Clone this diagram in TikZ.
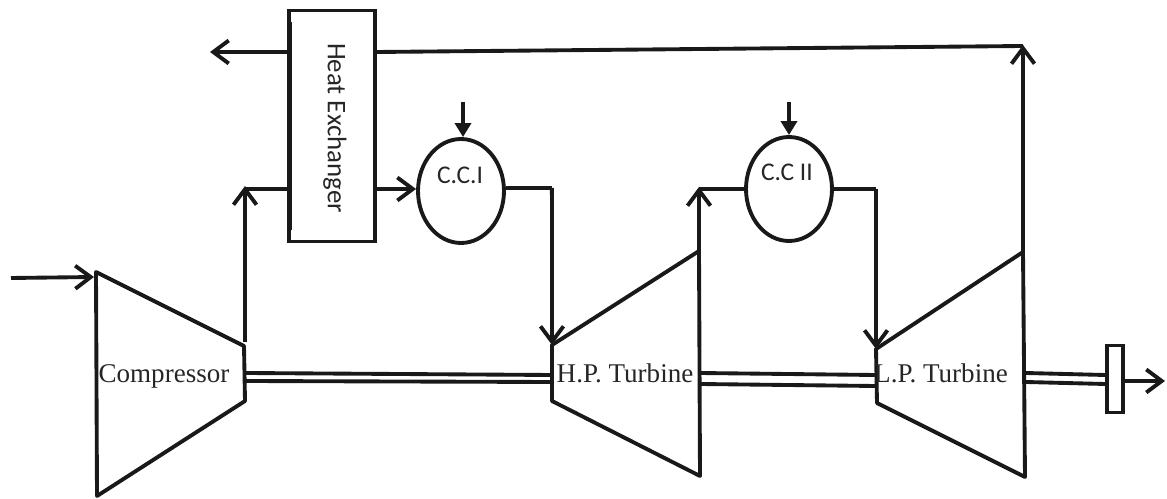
\documentclass[tikz,border=0pt]{standalone}
\usepackage{fontspec}
\setmainfont{Liberation Serif}
\newfontfamily\boxfont{Carlito}
\usetikzlibrary{arrows.meta}
\usetikzlibrary{shapes.geometric}

\tikzset{
    line/.style={line width=2.2pt, black!90},
    flow/.style={line, -{Straight Barb[length=3.1mm, width=4.6mm, line width=2.2pt]}},
    fuel/.style={line, -{Triangle[length=2.8mm, width=3.2mm]}},
    machine/.style={font=\fontsize{15.4}{18}\selectfont, inner sep=0pt, anchor=base, black!85},
    burner/.style={line, draw, ellipse, fill=white, minimum width=1.72cm, minimum height=2.08cm, inner sep=0pt},
    burnertext/.style={font=\boxfont\fontsize{14.5}{16}\selectfont, inner sep=0pt, black!85},
}

\begin{document}
\begin{tikzpicture}[x=0.02cm, y=-0.02cm]
                \useasboundingbox (0,0) rectangle (1167,499);

                % compressor
                \coordinate (c_0) at (96,272);
                \coordinate (c_1) at (244,346);
                \coordinate (c_2) at (245,401);
                \coordinate (c_3) at (97,496);
                \draw[line, line join=round] (c_0) -- (c_1) -- (c_2) -- (c_3) -- cycle;
                \node[machine] (comp) at (164,383) {Compressor};

                % h.p. turbine
                \coordinate (h_0) at (552,345);
                \coordinate (h_1) at (699,251);
                \coordinate (h_2) at (700,476);
                \coordinate (h_3) at (552,401);
                \draw[line, line join=round] (h_0) -- (h_1) -- (h_2) -- (h_3) -- cycle;
                \node[machine] (hpt) at (625,383) {H.P. Turbine};

                % l.p. turbine
                \coordinate (l_0) at (876,349);
                \coordinate (l_1) at (1023,252);
                \coordinate (l_2) at (1025,477);
                \coordinate (l_3) at (877,403);
                \draw[line, line join=round] (l_0) -- (l_1) -- (l_2) -- (l_3) -- cycle;
                \node[machine] (lpt) at (941,383) {L.P. Turbine};

                % heat exchanger, burners, brake
                \node[line, draw, minimum width=1.72cm, minimum height=4.62cm, inner sep=0pt] (hx) at (332,126) {};
                \node[burnertext, rotate=-90, font=\boxfont\fontsize{15.3}{16}\selectfont] (hx_text) at (335,128) {Heat Exchanger};
                \node[burner] (cc_1) at (461,191) {};
                \node[burnertext] (cc_1_text) at (460,175) {C.C.I};
                \node[burner] (cc_2) at (789,189) {};
                \node[burnertext] (cc_2_text) at (787,172) {C.C II};
                \node[line, draw, fill=white, minimum width=0.32cm, minimum height=1.34cm, inner sep=0pt] (brake) at (1115,379) {};

                % free ends and bends
                \coordinate (inlet) at (11,278);
                \coordinate (inlet_end) at (94,277);
                \coordinate (exhaust) at (210,52);
                \coordinate (fuel_1) at (463,102);
                \coordinate (fuel_2) at (789,102);
                \coordinate (power) at (1165,381);

                \draw[flow] (inlet) -- (inlet_end);
                \draw[line] (245,342) coordinate (c_out) -- (245,189) coordinate (c_up);
                \draw[flow] (c_out) -- (245,186);
                \draw[line] (c_up) -- (hx.west |- c_up);
                \draw[flow] (hx.east |- c_up) -- (cc_1.west |- c_up);
                \draw[flow] (hx.west |- exhaust) -- (exhaust);
                \draw[line] (290,22) -- (290,230);
                \draw[fuel] (fuel_1) -- (cc_1.north -| fuel_1);
                \draw[fuel] (fuel_2) -- (cc_2.north);
                \draw[line] (cc_1.east) ++(0,-3) -- ++(46,0) coordinate (a_1);
                \draw[flow] (a_1) -- (h_0);
                \draw[line] (h_1) -- (699,189) coordinate (a_2);
                \draw[flow] (h_1) -- (699,187);
                \draw[line] (a_2) -- (cc_2.west |- a_2);
                \draw[line] (cc_2.east |- a_2) -- (876,189) coordinate (a_3);
                \draw[flow] (a_3) -- (l_0);
                \draw[flow] (l_1) -- (1023,45) coordinate (a_4);
                \draw[line] (a_4) ++(0,1) -- (hx.east |- exhaust);

                % shafts
                \draw[line] (246,373) -- (552,375) (246,381) -- (552,382);
                \draw[line] (700,373) -- (875,375) (700,384) -- (875,386);
                \draw[line] (1026,373) -- (brake.west |- 0,375) (1026,382) -- (brake.west |- 0,384);
                \draw[flow] (brake.east |- power) -- (power);
\end{tikzpicture}
\end{document}
